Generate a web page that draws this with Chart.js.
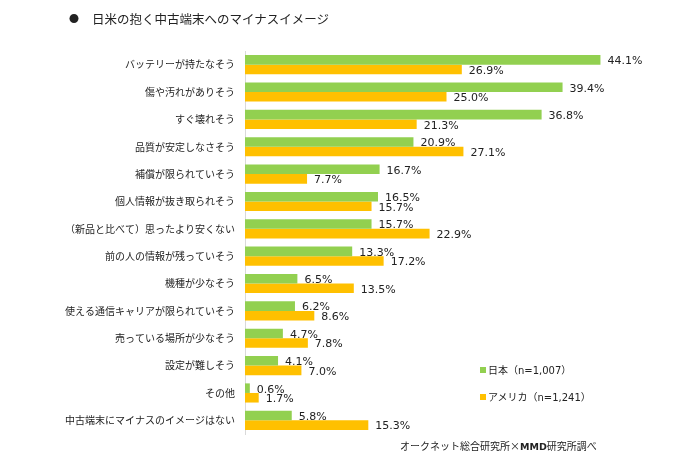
<!DOCTYPE html>
<html>
<head>
<meta charset="utf-8">
<script src="https://cdn.jsdelivr.net/npm/chart.js@4/dist/chart.umd.min.js"></script>
<style>
  body { margin: 0; background: #fff; font-family: "Noto Sans CJK JP", sans-serif; color: #222; }
  #wrap { position: relative; width: 700px; height: 459px; }
  #chart { position: absolute; left: 0; top: 0; }
  .title { position: absolute; left: 69px; top: 9px; font-size: 12.5px; white-space: nowrap; }
  .title .dot { display: inline-block; width: 23px; font-size: 10px; vertical-align: 1px; }
  .legend { position: absolute; left: 480px; font-size: 10px; white-space: nowrap; line-height: 12px;
            font-family: "DejaVu Sans", "Noto Sans CJK JP", sans-serif; }
  .legend i { display: inline-block; width: 6px; height: 6px; margin-right: 2px; vertical-align: 1px; }
  .source { position: absolute; left: 400px; top: 438px; font-size: 10px; white-space: nowrap;
            font-family: "Noto Sans CJK JP", sans-serif; }
  .source b { font-family: "DejaVu Sans"; font-weight: bold; font-size: 9.5px; }
</style>
</head>
<body>
<div id="wrap">
  <canvas id="chart" width="700" height="459"></canvas>
  <div class="title"><span class="dot">●</span>日米の抱く中古端末へのマイナスイメージ</div>
  <div class="legend" style="top:365px"><i style="background:#92D050"></i>日本（n=1,007）</div>
  <div class="legend" style="top:392px"><i style="background:#FFC000"></i>アメリカ（n=1,241）</div>
  <div class="source">オークネット総合研究所×<b>MMD</b>研究所調べ</div>
</div>
<script>
const COLORS = { japan: '#92D050', usa: '#FFC000', axis: '#d9d9d9', text: '#222' };

const categories = [
    'バッテリーが持たなそう', '傷や汚れがありそう', 'すぐ壊れそう', '品質が安定しなさそう',
    '補償が限られていそう', '個人情報が抜き取られそう', '（新品と比べて）思ったより安くない',
    '前の人の情報が残っていそう', '機種が少なそう', '使える通信キャリアが限られていそう',
    '売っている場所が少なそう', '設定が難しそう', 'その他', '中古端末にマイナスのイメージはない'
];
const japan = [44.1, 39.4, 36.8, 20.9, 16.7, 16.5, 15.7, 13.3, 6.5, 6.2, 4.7, 4.1, 0.6, 5.8];
const usa   = [26.9, 25.0, 21.3, 27.1, 7.7, 15.7, 22.9, 17.2, 13.5, 8.6, 7.8, 7.0, 1.7, 15.3];
const seriesNames = ['日本（n=1,007）', 'アメリカ（n=1,241）'];

// etiquetas de valor al final de cada barra
const valueLabels = {
    id: 'valueLabels',
    afterDatasetsDraw(chart) {
        const ctx = chart.ctx;
        ctx.save();
        ctx.font = '11px "DejaVu Sans"';
        ctx.fillStyle = COLORS.text;
        ctx.textBaseline = 'middle';
        ctx.textAlign = 'left';
        chart.data.datasets.forEach((ds, i) => {
            chart.getDatasetMeta(i).data.forEach((bar, j) => {
                ctx.fillText(ds.data[j].toFixed(1) + '%', bar.x + 7, bar.y + 1.5);
            });
        });
        ctx.restore();
    }
};

new Chart(document.getElementById('chart'), {
    type: 'bar',
    data: {
        labels: categories,
        datasets: [
            { label: seriesNames[0], data: japan, backgroundColor: COLORS.japan },
            { label: seriesNames[1], data: usa, backgroundColor: COLORS.usa }
        ]
    },
    options: {
        indexAxis: 'y',
        responsive: false,
        animation: false,
        devicePixelRatio: 1,
        layout: { padding: { top: 51, bottom: 25, left: 0, right: 52 } },
        datasets: { bar: { categoryPercentage: 0.7, barPercentage: 1 } },
        scales: {
            x: { display: false, min: 0, max: 50 },
            y: {
                afterFit: s => { s.width = 245; },
                grid: { display: false, drawTicks: false },
                border: { display: true, color: COLORS.axis, width: 1 },
                ticks: { padding: 10, color: COLORS.text, font: { family: '"Noto Sans CJK JP"', size: 10 } }
            }
        },
        plugins: { legend: { display: false }, tooltip: { enabled: false } }
    },
    plugins: [valueLabels]
});
</script>
</body>
</html>
